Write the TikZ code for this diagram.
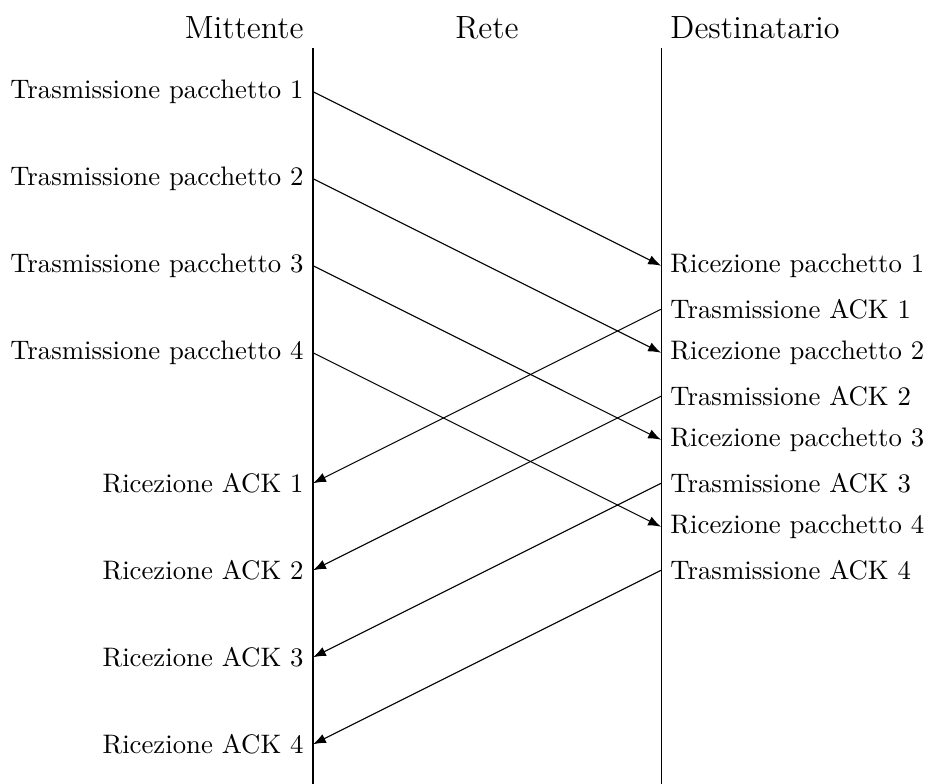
\documentclass[tikz,border=0pt]{standalone}
\usepackage{tikz}
\usetikzlibrary{arrows.meta, positioning}

\begin{document}
\begin{tikzpicture}[x=0.98cm, y=1.143cm,
    title/.style={font=\large},
    sndev/.style={left},
    rcvev/.style={right},
    arrow/.style={-{Latex}, black},
    line/.style={black}
]
\useasboundingbox (0,1.054) rectangle (12.426,-7.946);

% Lifelines
\coordinate (MTOP) at (4.196,0.5);
\coordinate (MBOT) at (4.196,-8);
\coordinate (DTOP) at (8.861,0.5);
\coordinate (DBOT) at (8.861,-8);
\coordinate (RTOP) at (6.528,0.5);
\draw [line] (MTOP) -- (MBOT);
\draw [line] (DTOP) -- (DBOT);

% Titles
\node (MITT) [title, above left] at (MTOP) {Mittente};
\node (RETE) [title, above] at (RTOP) {Rete};
\node (DEST) [title, above right] at (DTOP) {Destinatario};

% Sender events
\node (TXP1) [sndev] at (4.196,0)    {Trasmissione pacchetto 1};
\node (TXP2) [sndev] at (4.196,-1)   {Trasmissione pacchetto 2};
\node (TXP3) [sndev] at (4.196,-2)   {Trasmissione pacchetto 3};
\node (TXP4) [sndev] at (4.196,-3)   {Trasmissione pacchetto 4};
\node (RXA1) [sndev] at (4.196,-4.5) {Ricezione ACK 1};
\node (RXA2) [sndev] at (4.196,-5.5) {Ricezione ACK 2};
\node (RXA3) [sndev] at (4.196,-6.5) {Ricezione ACK 3};
\node (RXA4) [sndev] at (4.196,-7.5) {Ricezione ACK 4};

% Receiver events
\node (RXP1) [rcvev] at (8.861,-2)   {Ricezione pacchetto 1};
\node (TXA1) [rcvev] at (8.861,-2.5) {Trasmissione ACK 1};
\node (RXP2) [rcvev] at (8.861,-3)   {Ricezione pacchetto 2};
\node (TXA2) [rcvev] at (8.861,-3.5) {Trasmissione ACK 2};
\node (RXP3) [rcvev] at (8.861,-4)   {Ricezione pacchetto 3};
\node (TXA3) [rcvev] at (8.861,-4.5) {Trasmissione ACK 3};
\node (RXP4) [rcvev] at (8.861,-5)   {Ricezione pacchetto 4};
\node (TXA4) [rcvev] at (8.861,-5.5) {Trasmissione ACK 4};

% Packets
\draw [arrow] (TXP1.east) -- (RXP1.west);
\draw [arrow] (TXP2.east) -- (RXP2.west);
\draw [arrow] (TXP3.east) -- (RXP3.west);
\draw [arrow] (TXP4.east) -- (RXP4.west);

% ACKs
\draw [arrow] (TXA1.west) -- (RXA1.east);
\draw [arrow] (TXA2.west) -- (RXA2.east);
\draw [arrow] (TXA3.west) -- (RXA3.east);
\draw [arrow] (TXA4.west) -- (RXA4.east);

\end{tikzpicture}
\end{document}
